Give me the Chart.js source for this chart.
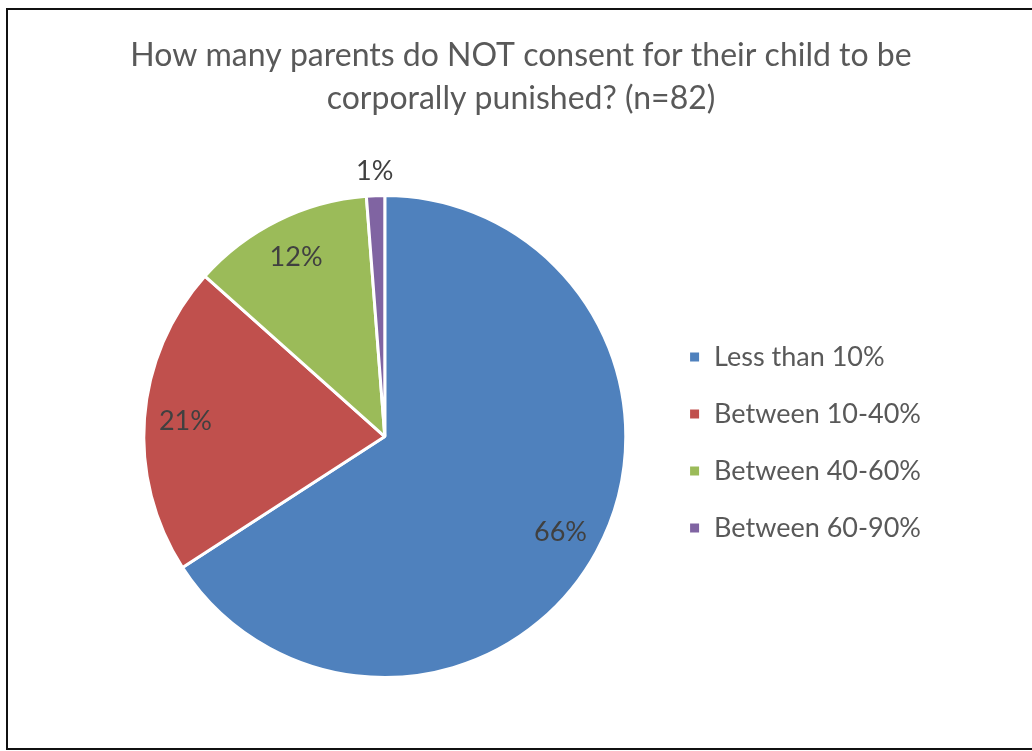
<!DOCTYPE html>
<html>
<head>
<meta charset="utf-8">
<script src="https://cdn.jsdelivr.net/npm/chart.js@4/dist/chart.umd.min.js"></script>
<style>
  html, body { margin: 0; padding: 0; background: #fff; width: 1032px; height: 751px; overflow: hidden; }
  #frame { position: absolute; left: 6px; top: 8px; width: 1100px; height: 738px; border: 2px solid #111; box-sizing: content-box; }
  #wrap { position: absolute; left: 0; top: 0; width: 1032px; height: 751px; }
</style>
</head>
<body>
<div id="frame"></div>
<div id="wrap"><canvas id="c"></canvas></div>
<script>
const titleLines = ["How many parents do NOT consent for their child to be", "corporally punished? (n=82)"];
const categories = ["Less than 10%", "Between 10-40%", "Between 40-60%", "Between 60-90%"];
const counts = [54, 17, 10, 1];
const colors = ["#4F81BD", "#C0504D", "#9BBB59", "#8064A2"];

const FONT = "Lato, 'Open Sans', 'Liberation Sans', sans-serif";

const pieLabels = {
  id: 'pieLabels',
  afterDatasetsDraw(chart) {
    const ctx = chart.ctx;
    const meta = chart.getDatasetMeta(0);
    const data = chart.data.datasets[0].data;
    const total = data.reduce((a, b) => a + b, 0);
    ctx.save();
    ctx.font = "27px " + FONT;
    ctx.fillStyle = "#404040";
    ctx.textAlign = "center";
    ctx.textBaseline = "middle";
    meta.data.forEach((arc, i) => {
      const p = arc.getProps(['x', 'y', 'startAngle', 'endAngle', 'outerRadius'], true);
      const mid = (p.startAngle + p.endAngle) / 2;
      const frac = data[i] / total;
      const r = frac < 0.05 ? p.outerRadius * 1.1 : p.outerRadius * 0.83;
      const tx = p.x + Math.cos(mid) * r;
      const ty = p.y + Math.sin(mid) * r;
      ctx.fillText(Math.round(frac * 100) + "%", tx, ty);
    });
    ctx.restore();
  }
};

new Chart(document.getElementById('c'), {
  type: 'pie',
  data: {
    labels: categories,
    datasets: [{
      data: counts,
      backgroundColor: colors,
      borderColor: "#ffffff",
      borderWidth: 3
    }]
  },
  options: {
    responsive: true,
    maintainAspectRatio: false,
    animation: false,
    layout: { padding: { left: 111, right: 101, top: 20, bottom: 72 } },
    plugins: {
      title: {
        display: true,
        text: titleLines,
        color: "#595959",
        font: { family: FONT, size: 32, weight: 'normal', lineHeight: 1.344 },
        padding: { top: 14, bottom: 74 }
      },
      legend: {
        position: 'right',
        fullSize: false,
        title: { display: true, text: ' ', font: { size: 10, lineHeight: 1.2 }, padding: 0 },
        labels: {
          color: "#595959",
          font: { family: FONT, size: 27 },
          boxWidth: 12,
          boxHeight: 12,
          padding: 30
        }
      },
      tooltip: { enabled: false }
    }
  },
  plugins: [pieLabels]
});
</script>
</body>
</html>
